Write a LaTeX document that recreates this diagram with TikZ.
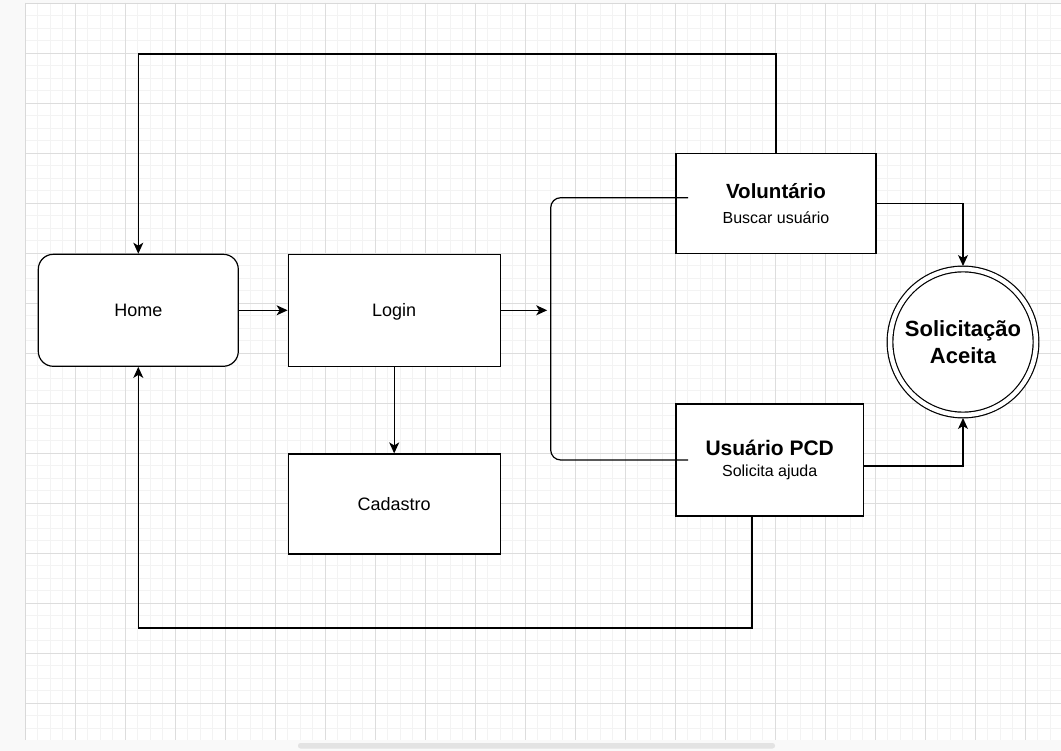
\documentclass[tikz,border=0pt]{standalone}
\usepackage{fontspec}
\setmainfont{Liberation Sans}
\usepackage{tikz}
\usetikzlibrary{arrows.meta}
\definecolor{gridminor}{HTML}{F3F3F3}
\definecolor{gridmajor}{HTML}{DDDDDD}
\definecolor{outside}{HTML}{F9F9F9}

\begin{document}
\begin{tikzpicture}[x=1pt,y=-1pt,
	screen/.style={draw=black,line width=1.2pt,fill=white,inner sep=0pt,font=\fontsize{18}{22}\selectfont},
	flow/.style={line width=1.2pt,-{Stealth[length=11pt,width=10pt,inset=3pt]}},
	branch/.style={line width=1.2pt,rounded corners=10pt}]
	\useasboundingbox (0,0) rectangle (1061,751);
	\fill[outside] (0,0) rectangle (1061,751);
	\fill[white] (25,3) rectangle (1061,739.5);
	\foreach \i in {0,...,82} \draw[gridminor,line width=0.8pt] ({25.3+12.5*\i},3) -- ({25.3+12.5*\i},739.5);
	\foreach \j in {0,...,58} \draw[gridminor,line width=0.8pt] (25,{3.3+12.5*\j}) -- (1061,{3.3+12.5*\j});
	\foreach \i in {0,...,20} \draw[gridmajor,line width=0.8pt] ({25.3+50*\i},3) -- ({25.3+50*\i},739.5);
	\foreach \j in {0,...,14} \draw[gridmajor,line width=0.8pt] (25,{3.3+50*\j}) -- (1061,{3.3+50*\j});
	\draw[gray!30] (25,739.5) -- (25,3) -- (1061,3);
	\fill[gray!22,rounded corners=2.5pt] (298,743) rectangle (775,748.5);

	\node[screen,rounded corners=15pt,text depth=0pt,minimum width=200pt,minimum height=112pt] (home) at (138.3,310.3) {Home};
	\node[screen,text depth=0pt,minimum width=212pt,minimum height=112pt] (login) at (394.2,310.3) {Login};
	\node[screen,text depth=0pt,minimum width=212pt,minimum height=100pt] (cadastro) at (394.2,504) {Cadastro};
	\node[screen,align=center,minimum width=200pt,minimum height=100pt,font=\fontsize{16}{25.5}\selectfont] (voluntario) at (776,203.7)
		{{\fontsize{20.5}{24}\selectfont\bfseries Voluntário}\\Buscar usuário};
	\node[screen,align=center,minimum width=187.3pt,minimum height=112pt,font=\fontsize{16}{21}\selectfont] (pcd) at (769.7,460)
		{{\fontsize{21}{24}\selectfont\bfseries Usuário PCD}\\Solicita ajuda};
	\node[draw=black,circle,double,double distance=4.5pt,line width=1.2pt,fill=white,minimum size=146pt,inner sep=0pt,outer sep=3pt,
		align=center,font=\fontsize{22}{27}\selectfont\bfseries] (aceita) at (963,342) {Solicitação\\Aceita};

	\coordinate (top) at (138.3,54);
	\coordinate (bottom) at (752,628);
	\coordinate (spine) at (550.7,310.3);
	\coordinate (bt) at (688,197.7);
	\coordinate (bb) at (688,460);

	\draw[flow] (home) -- (login);
	\draw[flow] (login) -- (cadastro);
	\draw[flow,shorten >=3.5pt] (login) -- (spine);
	\draw[branch] (bt) -| (spine) |- (bb);
	\draw[flow] (voluntario.north) |- (top) -- (home.north);
	\draw[flow] (pcd.south -| bottom) -- (bottom) -| (home.south);
	\draw[flow] (voluntario) -| (aceita);
	\draw[flow] ([yshift=-6pt]pcd.east) -| (aceita);
\end{tikzpicture}
\end{document}
